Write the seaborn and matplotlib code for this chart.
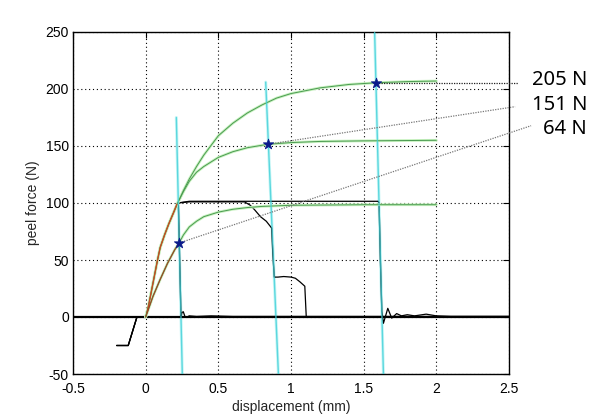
import numpy as np
import pandas as pd
import matplotlib
matplotlib.use("Agg")
import matplotlib.pyplot as plt
import seaborn as sns

# ---------------- data ----------------
# shared steep initial rise (green A, green B, black)
rise_x = [0.0, 0.02, 0.04, 0.06, 0.08, 0.10, 0.13, 0.16, 0.19, 0.22]
rise_y = [0, 10, 23, 36, 49, 61, 72, 82, 91, 100]

# green fitted curves
greenA_x = [0.26, 0.30, 0.35, 0.40, 0.50, 0.60, 0.70, 0.80, 0.90, 1.00, 1.20, 1.40, 1.59, 1.80, 2.00]
greenA_y = [111, 121, 132, 142, 159, 170, 179, 186, 192, 196, 201, 204, 205.5, 206.5, 207]
greenB_x = [0.26, 0.30, 0.35, 0.40, 0.50, 0.60, 0.70, 0.84, 1.00, 1.20, 1.50, 2.00]
greenB_y = [110, 119, 127, 132, 140, 145, 148.5, 151.5, 153, 154, 154.5, 155]
greenC_x = [0.0, 0.05, 0.10, 0.15, 0.20, 0.23, 0.26, 0.30, 0.35, 0.40, 0.50, 0.60, 0.70, 0.80, 1.00, 1.50, 2.00]
greenC_y = [0, 18, 33, 47, 59, 65, 72, 79, 84, 88, 92, 94.5, 96, 97, 98, 98.5, 98.5]

# red fitted segments
red1_x = [0.01, 0.02, 0.04, 0.06, 0.08, 0.10, 0.13, 0.16, 0.19, 0.215]
red1_y = [4, 10, 23, 36, 49, 61, 72, 82, 91, 99]
red2_x = [0.0, 0.05, 0.10, 0.15, 0.20, 0.23]
red2_y = [0, 18, 33, 47, 59, 65]

# black measured curves
pre_x = [-0.20, -0.12, -0.06, 0.0]
pre_y = [-25, -25, 0, 0]
blk1_x = [0.225, 0.243, 0.250, 0.259, 0.270, 0.280, 0.300, 0.350, 0.450, 0.600, 2.5]
blk1_y = [100, 0, 4, 4.6, 0.5, -0.3, 1, 0.5, 1, 0.5, 0.5]
blk2_x = [0.30, 0.50, 0.68, 0.72, 0.75, 0.79, 0.83, 0.867, 0.875, 0.885, 0.91, 0.95, 1.00, 1.03, 1.06, 1.095, 1.105, 1.20, 2.5]
blk2_y = [101, 101, 101, 98, 94, 88, 84, 78, 55, 35, 35, 35.5, 35, 34, 31, 27, 0, 0, 0]
blk3_x = [0.30, 1.00, 1.60, 1.606, 1.615, 1.625, 1.636, 1.666, 1.693, 1.727, 1.76, 1.80, 1.85, 1.93, 2.00, 2.10, 2.5]
blk3_y = [101.5, 101.5, 101.5, 100, 50, 5, -5.5, 7.6, -1, 3, 1, 2, 1, 2.5, 1, 0.5, 0.5]
base_x = [-0.5, 2.5]
base_y = [0, 0]

# cyan drop lines
cyan1_x = [0.211, 0.253]
cyan1_y = [175, -55]
cyan2_x = [0.826, 0.915]
cyan2_y = [206, -55]
cyan3_x = [1.573, 1.637]
cyan3_y = [262, -55]

# peak markers and labels
star_x = [0.232, 0.84, 1.587]
star_y = [65, 151.5, 205.3]
lead_end_x = [2.652, 2.542, 2.56]
lead_end_y = [167.8, 184.5, 205.3]
labels = ["64 N", "151 N", "205 N"]
label_py = [129.5, 104.5, 80]

x_ticks = [-0.5, 0, 0.5, 1, 1.5, 2, 2.5]
x_tick_labels = ["-0.5", "0", "0.5", "1", "1.5", "2", "2.5"]
y_ticks = [-50, 0, 50, 100, 150, 200, 250]
y_tick_labels = ["-50", "0", "50", "100", "150", "200", "250"]

# ---------------- plotting ----------------
sns.set_style("white")
plt.rcParams['font.family'] = ['Liberation Sans', 'DejaVu Sans']

fig = plt.figure(figsize=(6.01, 4.2), dpi=100)
ax = fig.add_axes([73/601, 1-374/420, (509-73)/601, (374-32)/420])


def line(x, y, **kw):
    df = pd.DataFrame({"x": x, "y": y})
    sns.lineplot(data=df, x="x", y="y", sort=False, estimator=None, ax=ax, **kw)


# cyan halo (below)
for cx, cy in [(cyan1_x, cyan1_y), (cyan2_x, cyan2_y), (cyan3_x, cyan3_y)]:
    line(cx, cy, color="#c8f6f6", lw=2.2, zorder=2)

# baseline and black curves
line(base_x, base_y, color="black", lw=1.6, zorder=2.5)
for bx, by in [(blk1_x, blk1_y), (blk2_x, blk2_y), (blk3_x, blk3_y)]:
    line(pre_x + rise_x + bx, pre_y + rise_y + by, color="black", lw=0.9,
         zorder=2.6)

# green curves (light halo + thin core)
gA_x = rise_x + greenA_x
gA_y = rise_y + greenA_y
gB_x = rise_x + greenB_x
gB_y = rise_y + greenB_y
for gx, gy in [(gA_x, gA_y), (gB_x, gB_y), (greenC_x, greenC_y)]:
    line(gx, gy, color="#c8f2c0", lw=2.0, zorder=3)
    line(gx, gy, color="#4a9a50", lw=0.7, zorder=3.2)

# red segments
line(red1_x, red1_y, color="#c84a22", lw=1.0, zorder=3.5)
line(red2_x, red2_y, color="#9a4a26", lw=0.9, zorder=3.5)

# cyan core (on top, semi-transparent so black drops show through)
for cx, cy in [(cyan1_x, cyan1_y), (cyan2_x, cyan2_y), (cyan3_x, cyan3_y)]:
    line(cx, cy, color="#40d0d8", lw=1.0, alpha=0.8, zorder=4)

# leader lines (extend beyond axes)
for i in range(3):
    col = "#202020" if i == 2 else "#777777"
    l, = ax.plot([star_x[i], lead_end_x[i]], [star_y[i], lead_end_y[i]],
                 color=col, lw=0.9, linestyle=(0, (1, 1)), zorder=4.5)
    l.set_clip_on(False)

# stars
sns.scatterplot(x=star_x, y=star_y, marker="*", s=60, color="#0a1a8a",
                edgecolor="#0a1a8a", linewidth=0.6, ax=ax, zorder=6)

# labels
for lab, py in zip(labels, label_py):
    fig.text(587/601, 1-py/420, lab, ha="right", va="center",
             fontsize=14.5, family=["Noto Sans", "DejaVu Sans"], color="black")

# axes styling (MATLAB look)
ax.set_xlim(-0.5, 2.5)
ax.set_ylim(-50, 250)
ax.set_xticks(x_ticks)
ax.set_xticklabels(x_tick_labels)
ax.set_yticks(y_ticks)
ax.set_yticklabels(y_tick_labels)
ax.grid(True, color="black", linestyle=(0, (1, 2.5)), linewidth=0.8)
ax.set_axisbelow(True)
ax.tick_params(direction="in", length=4, width=0.8, top=True, right=True,
               labelsize=10, colors="black")
ax.tick_params(axis="x", pad=6)
ax.tick_params(axis="y", pad=3)
for sp in ax.spines.values():
    sp.set_color("black")
    sp.set_linewidth(1.0)
ax.set_xlabel("displacement (mm)", fontsize=10, labelpad=3)
ax.set_ylabel("peel force (N)", fontsize=10, labelpad=4)

fig.savefig("out.png", dpi=100)
